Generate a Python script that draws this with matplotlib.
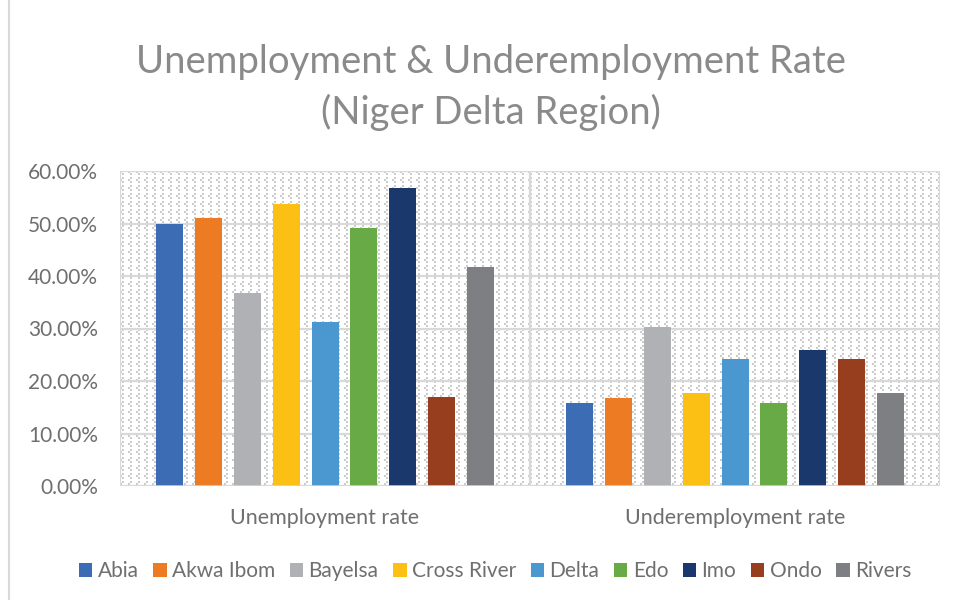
import numpy as np
import matplotlib
matplotlib.use("Agg")
import matplotlib.pyplot as plt
from matplotlib.lines import Line2D
from matplotlib.patches import Patch

plt.rcParams['font.family'] = ['Lato', 'DejaVu Sans']

# Data
categories = ["Unemployment rate", "Underemployment rate"]
states = ["Abia", "Akwa Ibom", "Bayelsa", "Cross River", "Delta", "Edo", "Imo", "Ondo", "Rivers"]
unemployment = [50.0, 51.1, 36.7, 53.8, 31.2, 49.1, 56.7, 17.0, 41.7]
underemployment = [15.9, 16.7, 30.3, 17.8, 24.1, 15.9, 26.0, 24.1, 17.7]
colors = ["#3c6cb4", "#ec7b24", "#b0b1b4", "#fcbf14", "#4b97d0",
          "#68aa46", "#1b386c", "#973e1f", "#7e7f83"]
yticks = [0, 10, 20, 30, 40, 50, 60]

W, H = 956, 600
fig = plt.figure(figsize=(W / 100, H / 100), dpi=100)
fig.patch.set_facecolor("white")

# plot area in pixels
x0, x1, y_top, y_bot = 120, 940, 171, 486
ax = fig.add_axes([x0 / W, 1 - y_bot / H, (x1 - x0) / W, (y_bot - y_top) / H])

# dashed downward-diagonal texture for the plot area
pw, ph = x1 - x0, y_bot - y_top
yy, xx = np.mgrid[0:ph, 0:pw]
cx, cy = xx // 2, yy // 2
d = (cx - cy) % 4
on = ((d == 0) & (cy % 4 < 2)) | ((d == 2) & (cy % 4 == 3))
tex = np.ones((ph, pw, 3))
tex[on] = np.array([0.80, 0.80, 0.80])
ax.imshow(tex, extent=(-0.5, 1.5, 0, 60), aspect='auto', interpolation='nearest',
          zorder=0)

ax.set_xlim(-0.5, 1.5)
ax.set_ylim(0, 60)

grid_c = "#d9d9d9"
for t in yticks:
    ax.axhline(t, color=grid_c, lw=1.6, zorder=1)
for xv in [-0.5, 0.5, 1.5]:
    ax.axvline(xv, color=grid_c, lw=1.6, zorder=1)

pitch = 38.8 / 410
width = 27 / 410
n = len(states)
for i, (s, c) in enumerate(zip(states, colors)):
    off = (i - (n - 1) / 2) * pitch
    ax.bar([0 + off, 1 + off], [unemployment[i], underemployment[i]],
           width=width, color=c, zorder=2, linewidth=0)

for sp in ax.spines.values():
    sp.set_visible(False)
ax.axhline(0, color=grid_c, lw=1.8, zorder=3)

txt_c = "#6f6f6f"
ax.set_yticks(yticks)
ax.set_yticklabels([f"{t:.2f}%" for t in yticks], fontsize=15, color=txt_c)
ax.set_xticks([0, 1])
ax.set_xticklabels(categories, fontsize=15.5, color=txt_c)
ax.tick_params(axis='both', length=0)
ax.tick_params(axis='y', pad=16)
ax.tick_params(axis='x', pad=16)

fig.text(491 / W, 1 - 62 / H, "Unemployment & Underemployment Rate",
         ha='center', va='center', fontsize=27.5, color="#8a8a8a")
fig.text(491 / W, 1 - 112 / H, "(Niger Delta Region)",
         ha='center', va='center', fontsize=27.5, color="#8a8a8a")

handles = [Patch(facecolor=c, edgecolor='none') for c in colors]
fig.legend(handles, states, loc='center', bbox_to_anchor=(495 / W, 1 - 571 / H),
           ncol=n, frameon=False, fontsize=15, labelcolor=txt_c,
           handlelength=0.65, handleheight=0.65, handletextpad=0.25,
           columnspacing=0.7)

# chart border on the left edge
fig.add_artist(Line2D([9 / W, 9 / W], [0, 1], color=grid_c, lw=1.5,
                      transform=fig.transFigure))

fig.savefig("out.png", dpi=100)
